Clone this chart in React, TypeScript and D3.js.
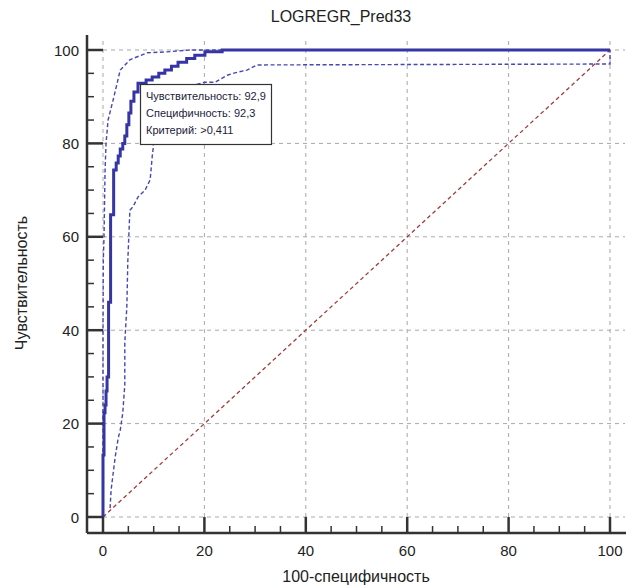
import React from 'react'
import * as d3 from 'd3'

// ROC curve points (100-specificity, sensitivity)
const rocFpr = [0, 0, 0.2, 0.4, 0.6, 0.8, 1.1, 1.5, 2.1, 2.6, 3.0, 3.4, 3.9, 4.3, 4.7, 5.1, 5.5, 6.1, 6.9, 7.7, 8.5, 9.7, 11, 12.2, 13.5, 14.8, 16.5, 18.1, 20.1, 23.5, 100]
const rocTpr = [0, 13.3, 22.3, 24, 27, 30, 46, 64.7, 74.3, 75.8, 77.3, 78.8, 80, 81.6, 84, 86.5, 89, 91, 92.9, 92.9, 93.6, 94.2, 95, 95.7, 96.5, 97.4, 98.2, 98.9, 99.6, 100, 100]

// upper confidence bound
const upFpr = [0, 0, 0.06, 0.2, 0.4, 0.6, 1.0, 2.0, 3.4, 5.3, 8.7, 12.6, 17.2, 100]
const upTpr = [0, 40, 55, 60, 74, 80, 85, 89.3, 95.7, 97.9, 99.4, 99.6, 100, 100]

// lower confidence bound
const loFpr = [1.4, 1.6, 2.4, 3.0, 3.4, 3.9, 4.3, 4.3, 4.7, 4.9, 5.3, 5.9, 6.9, 8.3, 9.3, 9.7, 9.9, 10, 11, 14, 18, 20.1, 22.1, 24.5, 26, 28.4, 30.4, 100, 100]
const loTpr = [1.9, 5.8, 12.8, 16.9, 18.6, 22.3, 28.3, 37.3, 45, 55, 65.7, 66.4, 68.5, 70, 72.2, 77.1, 79, 82, 88, 91, 92.5, 93.1, 93.1, 94.6, 95.1, 95.7, 96.8, 97, 100]

const majorTicks = [0, 20, 40, 60, 80, 100]
const minorTicks = [5, 10, 15, 25, 30, 35, 45, 50, 55, 65, 70, 75, 85, 90, 95]
const boxLines = ['Чувствительность: 92,9', 'Специфичность: 92,3', 'Критерий: >0,411']

const FONT = '"Liberation Sans", Arial, sans-serif'

export default function App() {
  const x = d3.scaleLinear().domain([0, 100]).range([103, 610])
  const y = d3.scaleLinear().domain([0, 100]).range([517, 50])
  const axisX = 87
  const axisY = 533

  const rocLine = d3.line<number>().x(i => x(rocFpr[i])).y(i => y(rocTpr[i])).curve(d3.curveStepAfter)
  const ciLine = (fx: number[], fy: number[]) =>
    d3.line<number>().x(i => x(fx[i])).y(i => y(fy[i]))(fx.map((_, i) => i)) || ''

  const axisColor = '#333'
  const gridColor = '#a8a8a8'

  return (
    <svg width={640} height={588} style={{ position: 'fixed', left: 0, top: 0, background: '#fff' }} fontFamily={FONT}>
      <rect width={640} height={588} fill="#fff" />
      {/* grid */}
      {majorTicks.map(t => (
        <g key={'g' + t}>
          <line x1={x(t)} x2={x(t)} y1={y(0)} y2={38} stroke={gridColor} strokeWidth={1} strokeDasharray="4,4" />
          <line x1={x(0)} x2={625} y1={y(t)} y2={y(t)} stroke={gridColor} strokeWidth={1} strokeDasharray="4,4" />
        </g>
      ))}

      {/* diagonal */}
      <line x1={x(0)} y1={y(0)} x2={x(100)} y2={y(100)} stroke="#a23c3c" strokeWidth={1.3} strokeDasharray="4,3" />

      {/* confidence bounds */}
      <path d={ciLine(upFpr, upTpr)} fill="none" stroke="#4646b6" strokeWidth={1.4} strokeDasharray="4,2.5" />
      <path d={ciLine(loFpr, loTpr)} fill="none" stroke="#4646b6" strokeWidth={1.4} strokeDasharray="4,2.5" />

      {/* ROC */}
      <path d={rocLine(rocFpr.map((_, i) => i)) || ''} fill="none" stroke="#3535a4" strokeWidth={3} />

      {/* axes */}
      <line x1={axisX} x2={axisX} y1={35} y2={axisY} stroke={axisColor} strokeWidth={2.5} />
      <line x1={axisX} x2={626} y1={axisY} y2={axisY} stroke={axisColor} strokeWidth={2.5} />
      {majorTicks.map(t => (
        <g key={'t' + t}>
          <line x1={axisX} x2={x(0)} y1={y(t)} y2={y(t)} stroke={axisColor} strokeWidth={2.5} />
          <line x1={x(t)} x2={x(t)} y1={axisY} y2={y(0)} stroke={axisColor} strokeWidth={2.5} />
          <text x={79} y={y(t) + 5.5} textAnchor="end" fontSize={15} fill="#222">{t}</text>
          <text x={x(t)} y={556} textAnchor="middle" fontSize={15} fill="#222">{t}</text>
        </g>
      ))}
      {minorTicks.map(t => (
        <g key={'m' + t}>
          <line x1={axisX} x2={axisX + 7} y1={y(t)} y2={y(t)} stroke={axisColor} strokeWidth={1.5} />
          <line x1={x(t)} x2={x(t)} y1={axisY} y2={axisY - 7} stroke={axisColor} strokeWidth={1.5} />
        </g>
      ))}

      {/* annotation box */}
      <rect x={140.5} y={84.5} width={131} height={60} fill="#fff" stroke="#333" strokeWidth={1.2} />
      {boxLines.map((s, i) => (
        <text key={s} x={146} y={100 + i * 17} fontSize={11} fill="#1c1c3c">{s}</text>
      ))}

      {/* titles */}
      <text x={341} y={22} textAnchor="middle" fontSize={16} fill="#222">LOGREGR_Pred33</text>
      <text x={356} y={582} textAnchor="middle" fontSize={16} fill="#222">100-специфичность</text>
      <text transform={`translate(27,${283}) rotate(-90)`} textAnchor="middle" fontSize={16} fill="#222">Чувствительность</text>
    </svg>
  )
}
